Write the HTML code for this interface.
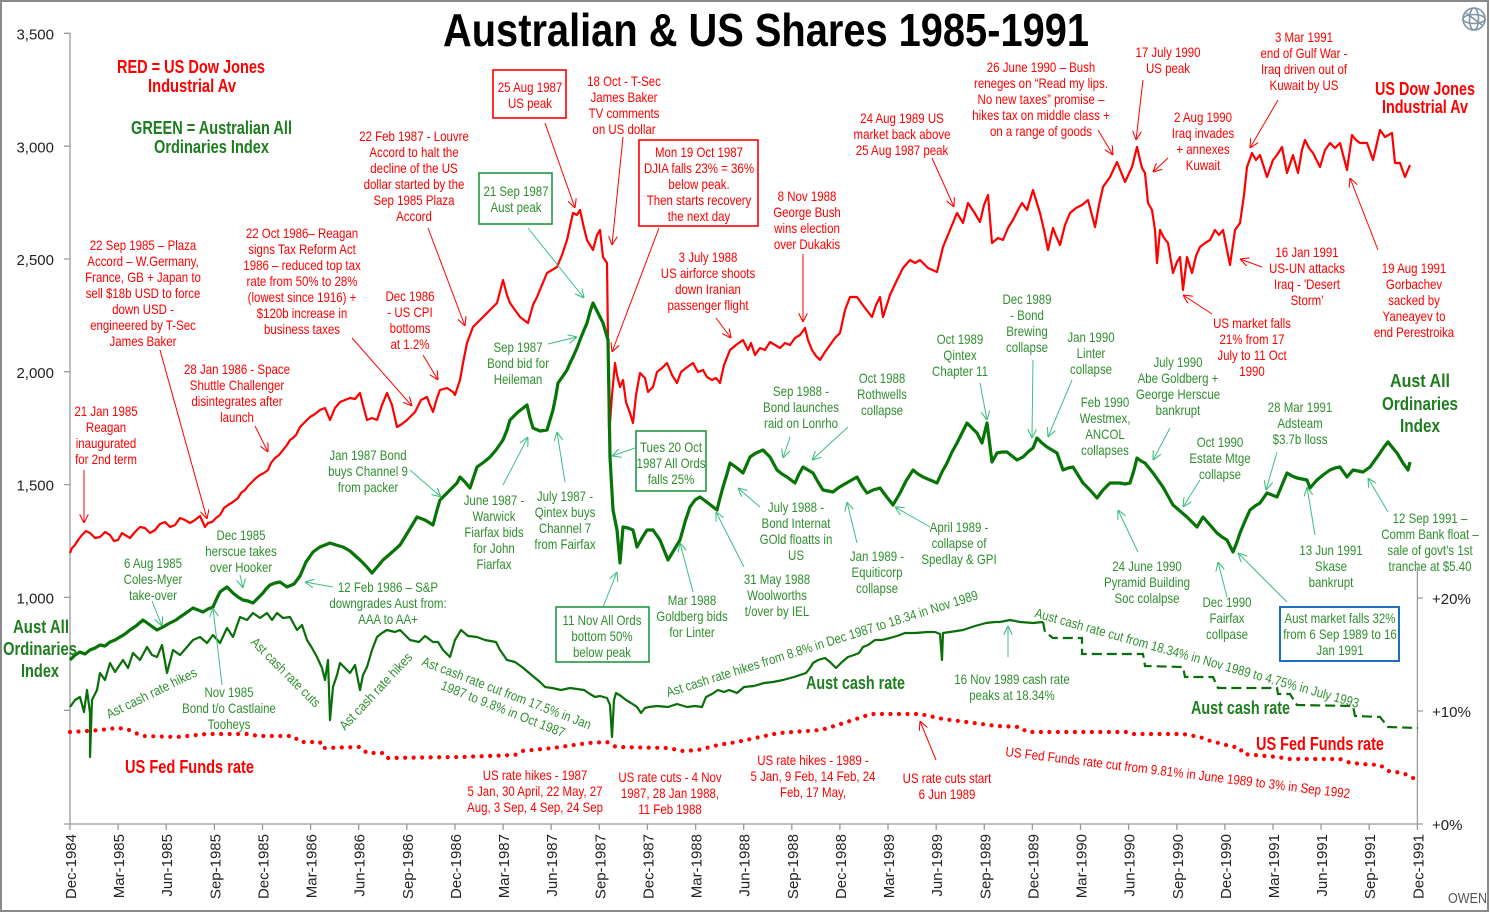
<!DOCTYPE html>
<html><head><meta charset="utf-8">
<style>
html,body{margin:0;padding:0;background:#fff}
svg{display:block}
text{font-family:"Liberation Sans",Arial,sans-serif}
.a{font-size:14px;text-anchor:middle}
.r{fill:#f00}
.g{fill:#2f8f2f}
.b{font-weight:bold;font-size:18px}
.bg{fill:#1e7d1e}
.ax{font-size:15px;fill:#222}
.rt{font-size:13.5px}
</style></head>
<body>
<svg width="1490" height="913" viewBox="0 0 1490 913" xmlns="http://www.w3.org/2000/svg">
<defs>
<marker id="ar" viewBox="0 0 10 10" refX="10" refY="5" markerWidth="9" markerHeight="9" markerUnits="userSpaceOnUse" orient="auto"><path d="M0,0 L10,5 L0,10" fill="none" stroke="#f00" stroke-width="1.2"/></marker>
<marker id="ag" viewBox="0 0 10 10" refX="10" refY="5" markerWidth="9" markerHeight="9" markerUnits="userSpaceOnUse" orient="auto"><path d="M0,0 L10,5 L0,10" fill="none" stroke="#3cbf80" stroke-width="1.2"/></marker>
</defs>
<rect x="0" y="0" width="1490" height="913" fill="#fff"/>
<rect x="1" y="1" width="1487" height="910" fill="none" stroke="#8a8a8a" stroke-width="2"/>

<!-- logo -->
<g transform="translate(1474,19)" fill="none" stroke="#7d93a6" stroke-width="1.6"><circle r="11"/><ellipse rx="11" ry="4.5"/><ellipse rx="4.5" ry="11"/><path d="M-8,-6 L8,6"/></g>

<!-- Title -->
<text x="443" y="46" font-size="46" font-weight="bold" fill="#000" textLength="646" lengthAdjust="spacingAndGlyphs">Australian &amp; US Shares 1985-1991</text>

<!-- axes -->
<g stroke="#9a9a9a" stroke-width="1.3" fill="none">
<line x1="70" y1="33" x2="70" y2="824"/>
<line x1="64" y1="824" x2="1418" y2="824"/>
<line x1="1417.4" y1="567" x2="1417.4" y2="824"/>
<path d="M64,33.3H70M64,146.2H70M64,259H70M64,371.8H70M64,484.6H70M64,597.4H70M64,710.3H70"/>
<path d="M1417,598H1423M1417,711H1423M1417,824H1423"/>
<path d="M70,824V830M118.1,824V830M166.2,824V830M214.4,824V830M262.5,824V830M310.6,824V830M358.7,824V830M406.8,824V830M455,824V830M503.1,824V830M551.2,824V830M599.3,824V830M647.4,824V830M695.6,824V830M743.7,824V830M791.8,824V830M839.9,824V830M888,824V830M936.2,824V830M984.3,824V830M1032.4,824V830M1080.5,824V830M1128.6,824V830M1176.8,824V830M1224.9,824V830M1273,824V830M1321.1,824V830M1369.2,824V830M1417.4,824V830"/>
</g>
<g class="ax" text-anchor="end">
<text x="54" y="39.5">3,500</text>
<text x="54" y="152.3">3,000</text>
<text x="54" y="265">2,500</text>
<text x="54" y="378">2,000</text>
<text x="54" y="490.7">1,500</text>
<text x="54" y="603.5">1,000</text>
</g>
<g class="ax">
<text x="1432" y="604">+20%</text>
<text x="1432" y="717">+10%</text>
<text x="1432" y="830">+0%</text>
</g>
<g class="ax" text-anchor="end">
<text transform="translate(76,834) rotate(-90)">Dec-1984</text>
<text transform="translate(124.1,834) rotate(-90)">Mar-1985</text>
<text transform="translate(172.2,834) rotate(-90)">Jun-1985</text>
<text transform="translate(220.4,834) rotate(-90)">Sep-1985</text>
<text transform="translate(268.5,834) rotate(-90)">Dec-1985</text>
<text transform="translate(316.6,834) rotate(-90)">Mar-1986</text>
<text transform="translate(364.7,834) rotate(-90)">Jun-1986</text>
<text transform="translate(412.8,834) rotate(-90)">Sep-1986</text>
<text transform="translate(461,834) rotate(-90)">Dec-1986</text>
<text transform="translate(509.1,834) rotate(-90)">Mar-1987</text>
<text transform="translate(557.2,834) rotate(-90)">Jun-1987</text>
<text transform="translate(605.3,834) rotate(-90)">Sep-1987</text>
<text transform="translate(653.4,834) rotate(-90)">Dec-1987</text>
<text transform="translate(701.6,834) rotate(-90)">Mar-1988</text>
<text transform="translate(749.7,834) rotate(-90)">Jun-1988</text>
<text transform="translate(797.8,834) rotate(-90)">Sep-1988</text>
<text transform="translate(845.9,834) rotate(-90)">Dec-1988</text>
<text transform="translate(894,834) rotate(-90)">Mar-1989</text>
<text transform="translate(942.2,834) rotate(-90)">Jun-1989</text>
<text transform="translate(990.3,834) rotate(-90)">Sep-1989</text>
<text transform="translate(1038.4,834) rotate(-90)">Dec-1989</text>
<text transform="translate(1086.5,834) rotate(-90)">Mar-1990</text>
<text transform="translate(1134.6,834) rotate(-90)">Jun-1990</text>
<text transform="translate(1182.8,834) rotate(-90)">Sep-1990</text>
<text transform="translate(1230.9,834) rotate(-90)">Dec-1990</text>
<text transform="translate(1279,834) rotate(-90)">Mar-1991</text>
<text transform="translate(1327.1,834) rotate(-90)">Jun-1991</text>
<text transform="translate(1375.2,834) rotate(-90)">Sep-1991</text>
<text transform="translate(1423.4,834) rotate(-90)">Dec-1991</text>
</g>
<text x="1448" y="903" font-size="15" fill="#555" textLength="39" lengthAdjust="spacingAndGlyphs">OWEN</text>

<!-- US Fed Funds dotted -->
<polyline fill="none" stroke="#f00" stroke-width="4.2" stroke-linecap="round" stroke-dasharray="0,8.5" points="70,732 87,731 100,730 117,728 127,729 133,732 143,736 177,737 207,734 250,734 257,736 293,736 300,742 320,742 322,748 360,747 367,753 383,753 387,758 460,757 515,755 522,751 553,748 588,743 607,742 616,747 668,748 683,751 698,750 718,745 737,742 760,737 779,733 821,730 844,723 871,714 920,714 943,719 997,726 1020,727 1027,732 1127,732 1133,734 1183,734 1200,737 1207,740 1230,746 1240,748 1243,754 1277,757 1290,759 1340,759 1347,762 1360,764 1380,765 1388,771 1403,773 1415,779"/>

<!-- Aust cash rate -->
<polyline fill="none" stroke="#0a6e0a" stroke-width="2.2" stroke-linejoin="round" points="70,707 75,700 80,697 84,712 87,690 90,713 90,757 92,700 97,690 100,673 105,680 110,663 115,672 123,660 128,668 133,653 140,660 147,647 152,655 157,657 162,645 167,673 173,650 180,655 187,647 193,640 200,637 207,643 213,635 220,643 227,628 233,637 240,617 247,620 253,613 260,618 267,613 272,620 277,613 283,618 290,617 297,630 302,625 307,640 312,648 317,657 322,668 325,680 328,660 330,720 333,687 337,675 340,663 345,668 350,673 355,665 360,690 363,675 367,667 372,650 377,637 382,633 387,630 395,632 400,630 410,640 419,642 425,636 433,642 438,642 443,650 450,657 455,640 461,630 468,636 477,637 485,640 496,642 500,650 507,660 515,662 522,667 528,672 534,677 540,682 545,687 552,688 561,690 570,688 584,690 590,694 595,697 600,696 607,698 610,705 612,737 614,700 616,693 621,696 626,700 631,703 637,707 641,713 645,708 649,707 657,706 668,707 677,704 687,707 695,706 702,707 706,697 712,694 718,690 724,692 729,690 737,693 744,687 754,686 764,683 773,682 783,680 794,677 806,673 810,668 813,663 818,660 825,658 830,662 836,668 842,662 848,657 854,655 859,653 863,647 868,645 875,640 882,640 890,638 897,636 905,633 915,633 928,632 935,632 940,634 942,660 943,633 950,632 963,630 975,626 986,623 995,622 1000,622 1010,620 1020,622 1033,623 1043,622"/>
<path fill="none" stroke="#0a6e0a" stroke-width="2.2" stroke-dasharray="10,5" d="M1043,622 L1045,632 L1053,638 L1082,638 L1082,654 L1143,654 L1145,666 L1183,667 L1185,677 L1213,677 L1218,688 L1277,688 L1278,694 L1290,694 L1297,705 L1353,706 L1355,716 L1380,717 L1388,727 L1418,728"/>

<!-- US Dow Jones -->
<polyline fill="none" stroke="#f00" stroke-width="2.2" stroke-linejoin="round" points="70,553 72,548 75,545 78,540 82,535 86,531 90,533 95,538 100,537 105,532 110,535 114,541 118,540 122,533 125,535 130,538 135,532 140,527 145,528 150,533 155,530 160,524 165,522 170,527 175,525 180,518 185,520 190,523 195,520 200,516 205,527 208,523 212,522 216,518 220,515 224,508 228,505 233,502 238,498 241,493 245,490 248,486 252,482 256,478 260,475 264,473 268,470 271,463 275,458 279,455 283,450 287,445 290,440 293,438 296,435 298,431 300,427 305,422 310,417 315,414 320,410 325,408 330,420 335,408 340,402 345,400 350,398 355,399 360,393 363,405 367,420 372,418 377,420 382,405 387,393 392,405 397,427 402,424 407,420 411,416 415,412 421,400 427,397 430,405 433,412 437,398 440,390 447,388 453,392 455,395 460,380 463,363 467,343 473,327 478,322 483,317 490,310 497,303 503,280 507,295 510,303 515,310 520,317 528,323 533,305 537,297 542,285 547,273 552,270 557,267 562,255 567,240 573,213 577,215 580,210 584,228 587,240 593,250 597,235 600,230 603,257 607,263 608,340 609,430 610,423 612,395 615,363 617,375 620,387 623,380 626,402 630,413 633,423 636,395 640,373 645,378 648,392 653,387 657,372 662,368 667,363 672,375 677,383 681,372 686,368 693,363 698,372 703,370 707,377 712,380 716,378 720,383 724,365 730,350 736,345 743,340 748,350 751,343 755,355 760,348 765,350 770,342 775,345 780,348 785,343 790,345 795,338 800,335 805,328 808,340 812,350 816,356 820,360 825,352 830,345 835,338 840,333 845,310 850,297 857,297 865,308 872,317 876,305 880,297 883,317 890,295 897,280 903,268 910,260 915,263 920,260 928,268 937,272 943,247 950,230 957,213 963,223 968,203 974,212 980,222 984,205 988,195 992,243 998,238 1003,240 1008,228 1013,220 1018,210 1022,203 1027,210 1033,190 1036,200 1040,213 1044,230 1048,250 1053,228 1056,236 1060,245 1065,225 1070,213 1076,208 1082,205 1088,200 1095,227 1099,205 1103,187 1110,177 1117,162 1121,172 1125,182 1132,167 1137,147 1142,168 1145,173 1148,203 1152,210 1155,230 1157,263 1160,230 1164,238 1168,243 1173,273 1177,262 1180,257 1183,290 1187,257 1192,273 1196,256 1200,247 1205,243 1210,240 1215,230 1219,235 1223,230 1230,265 1235,230 1240,223 1244,195 1247,167 1252,153 1256,160 1260,155 1267,177 1273,160 1277,155 1282,147 1287,173 1293,155 1298,173 1302,150 1305,140 1309,148 1313,153 1320,167 1325,150 1330,143 1335,148 1340,143 1347,170 1352,135 1356,140 1360,143 1367,143 1373,160 1380,130 1385,137 1392,133 1395,163 1400,163 1405,177 1410,165"/>

<!-- All Ords -->
<polyline fill="none" stroke="#067406" stroke-width="3.2" stroke-linejoin="round" points="70,660 75,655 80,652 85,654 90,650 95,648 100,645 105,646 110,642 115,640 120,637 125,634 130,630 136,626 143,620 150,625 157,630 163,627 168,624 172,622 176,620 180,617 186,613 193,608 198,610 203,612 208,609 213,607 217,598 220,592 224,589 227,587 233,593 238,597 243,600 248,601 253,603 258,598 263,593 266,589 270,585 275,583 280,582 287,587 294,584 300,576 306,562 313,552 320,547 330,543 336,545 343,547 350,551 360,560 366,566 372,573 378,566 383,560 390,554 400,545 408,532 417,517 425,520 433,525 437,510 440,500 448,492 457,483 460,477 465,482 470,488 474,476 477,467 484,462 490,457 496,450 503,440 507,430 510,420 518,412 527,405 530,418 533,428 540,431 547,430 550,420 553,410 556,395 558,383 563,376 567,370 570,363 573,357 577,348 580,340 584,330 587,323 590,312 593,303 598,313 603,323 608,340 610,457 613,510 617,530 620,563 623,527 628,528 633,530 637,547 642,538 647,530 653,530 660,540 664,550 668,560 674,550 680,540 685,522 690,507 695,500 700,497 708,503 717,510 720,498 723,487 727,474 730,463 737,468 743,473 750,457 756,453 763,450 770,457 777,470 782,474 787,477 795,483 799,474 803,467 808,470 813,473 818,482 823,490 833,492 838,488 843,485 850,481 857,477 862,486 867,493 873,490 880,488 886,496 893,505 900,493 906,481 913,470 918,474 923,477 930,480 937,483 942,472 947,463 952,452 957,443 962,433 967,423 972,428 977,433 982,443 987,423 992,462 997,453 1002,452 1007,452 1012,456 1017,460 1023,457 1028,452 1033,448 1037,438 1042,443 1047,447 1052,450 1057,453 1063,470 1068,468 1073,467 1078,475 1083,483 1090,490 1097,498 1103,490 1110,483 1115,483 1120,483 1125,484 1130,483 1134,470 1137,458 1141,461 1145,463 1149,468 1153,473 1158,480 1163,487 1168,496 1173,505 1180,511 1187,517 1192,522 1197,527 1203,517 1210,525 1217,533 1222,537 1227,540 1233,552 1237,542 1240,533 1245,521 1250,510 1255,506 1260,503 1267,493 1272,495 1277,497 1282,485 1287,473 1292,476 1297,478 1302,479 1307,480 1310,488 1317,480 1323,475 1330,470 1335,468 1340,467 1347,477 1353,470 1358,471 1363,472 1370,467 1375,460 1380,453 1384,447 1388,442 1392,447 1397,453 1403,463 1408,470 1410,462"/>

<!-- red arrows -->
<g stroke="#f00" stroke-width="1" fill="none" marker-end="url(#ar)">
<line x1="84" y1="470" x2="84" y2="523"/>
<line x1="160" y1="350" x2="207" y2="519"/>
<line x1="255" y1="426" x2="268" y2="452"/>
<line x1="352" y1="338" x2="412" y2="406"/>
<line x1="423" y1="355" x2="438" y2="380"/>
<line x1="428" y1="228" x2="465" y2="326"/>
<line x1="545" y1="123" x2="575" y2="208"/>
<line x1="623" y1="137" x2="612" y2="245"/>
<line x1="659" y1="228" x2="612" y2="352"/>
<line x1="716" y1="318" x2="731" y2="338"/>
<line x1="803" y1="254" x2="803" y2="322"/>
<line x1="932" y1="158" x2="954" y2="207"/>
<line x1="1098" y1="130" x2="1113" y2="155"/>
<line x1="1143" y1="80" x2="1136" y2="140"/>
<line x1="1168" y1="158" x2="1153" y2="172"/>
<line x1="1278" y1="100" x2="1250" y2="148"/>
<line x1="1262" y1="267" x2="1240" y2="259"/>
<line x1="1212" y1="314" x2="1183" y2="295"/>
<line x1="1378" y1="250" x2="1350" y2="178"/>
<line x1="936" y1="760" x2="920" y2="721"/>
</g>
<!-- green arrows -->
<g stroke="#3cbf80" stroke-width="1" fill="none" marker-end="url(#ag)">
<line x1="152" y1="601" x2="162" y2="626"/>
<line x1="240" y1="575" x2="243" y2="588"/>
<line x1="222" y1="685" x2="213" y2="608"/>
<line x1="333" y1="587" x2="305" y2="582"/>
<line x1="410" y1="470" x2="441" y2="497"/>
<line x1="503" y1="485" x2="528" y2="437"/>
<line x1="565" y1="482" x2="557" y2="432"/>
<line x1="548" y1="344" x2="577" y2="337"/>
<line x1="528" y1="228" x2="584" y2="298"/>
<line x1="635" y1="448" x2="612" y2="456"/>
<line x1="603" y1="607" x2="617" y2="572"/>
<line x1="693" y1="592" x2="680" y2="543"/>
<line x1="760" y1="507" x2="738" y2="488"/>
<line x1="744" y1="567" x2="716" y2="512"/>
<line x1="790" y1="437" x2="783" y2="458"/>
<line x1="848" y1="427" x2="812" y2="460"/>
<line x1="857" y1="543" x2="847" y2="502"/>
<line x1="930" y1="527" x2="895" y2="507"/>
<line x1="980" y1="383" x2="987" y2="420"/>
<line x1="1033" y1="360" x2="1032" y2="438"/>
<line x1="1072" y1="380" x2="1048" y2="437"/>
<line x1="1170" y1="428" x2="1153" y2="460"/>
<line x1="1200" y1="480" x2="1183" y2="507"/>
<line x1="1138" y1="552" x2="1118" y2="510"/>
<line x1="1277" y1="452" x2="1266" y2="490"/>
<line x1="1315" y1="535" x2="1307" y2="487"/>
<line x1="1388" y1="512" x2="1368" y2="478"/>
<line x1="1227" y1="597" x2="1218" y2="562"/>
<line x1="1287" y1="602" x2="1238" y2="553"/>
<line x1="1008" y1="657" x2="1008" y2="626"/>
</g>

<!-- boxes -->
<rect x="493" y="70" width="73" height="48" fill="#fff" stroke="#f00" stroke-width="1.6"/>
<rect x="639" y="140" width="119" height="86" fill="#fff" stroke="#f00" stroke-width="1.6"/>
<rect x="479" y="173" width="73" height="51" fill="#fff" stroke="#1f9a3f" stroke-width="1.6"/>
<rect x="636" y="431" width="70" height="60" fill="#fff" stroke="#1f9a3f" stroke-width="1.6"/>
<rect x="556" y="607" width="93" height="55" fill="#fff" stroke="#1f9a3f" stroke-width="1.6"/>
<rect x="1280" y="607" width="119" height="54" fill="#fff" stroke="#1f6fc0" stroke-width="2"/>

<!-- bold labels -->
<text class="b" fill="#f00" x="117" y="73" textLength="148" lengthAdjust="spacingAndGlyphs">RED = US Dow Jones</text>
<text class="b" fill="#f00" x="148" y="92" textLength="88" lengthAdjust="spacingAndGlyphs">Industrial Av</text>
<text class="b bg" x="131" y="134" textLength="161" lengthAdjust="spacingAndGlyphs">GREEN = Australian All</text>
<text class="b bg" x="154" y="153" textLength="115" lengthAdjust="spacingAndGlyphs">Ordinaries Index</text>
<text class="b" fill="#f00" x="1375" y="95" textLength="100" lengthAdjust="spacingAndGlyphs">US Dow Jones</text>
<text class="b" fill="#f00" x="1382" y="113" textLength="86" lengthAdjust="spacingAndGlyphs">Industrial Av</text>
<text class="b bg" x="13" y="633" textLength="56" lengthAdjust="spacingAndGlyphs">Aust All</text>
<text class="b bg" x="3" y="655" textLength="74" lengthAdjust="spacingAndGlyphs">Ordinaries</text>
<text class="b bg" x="21" y="677" textLength="38" lengthAdjust="spacingAndGlyphs">Index</text>
<text class="b bg" x="1390" y="387" textLength="60" lengthAdjust="spacingAndGlyphs">Aust All</text>
<text class="b bg" x="1382" y="410" textLength="76" lengthAdjust="spacingAndGlyphs">Ordinaries</text>
<text class="b bg" x="1400" y="432" textLength="40" lengthAdjust="spacingAndGlyphs">Index</text>
<text class="b bg" x="806" y="689" textLength="99" lengthAdjust="spacingAndGlyphs">Aust cash rate</text>
<text class="b bg" x="1191" y="714" textLength="99" lengthAdjust="spacingAndGlyphs">Aust cash rate</text>
<text class="b" fill="#f00" x="125" y="773" textLength="129" lengthAdjust="spacingAndGlyphs">US Fed Funds rate</text>
<text class="b" fill="#f00" x="1256" y="750" textLength="128" lengthAdjust="spacingAndGlyphs">US Fed Funds rate</text>

<!-- rotated texts -->
<g class="rt g">
<text transform="translate(109,719) rotate(-26)" textLength="99" lengthAdjust="spacingAndGlyphs">Ast cash rate hikes</text>
<text transform="translate(250,643) rotate(45)" textLength="92" lengthAdjust="spacingAndGlyphs">Ast cash rate cuts</text>
<text transform="translate(345,731) rotate(-47)" textLength="100" lengthAdjust="spacingAndGlyphs">Ast cash rate hikes</text>
<text transform="translate(421,665) rotate(21)" textLength="180" lengthAdjust="spacingAndGlyphs">Ast cash rate cut from 17.5% in Jan</text>
<text transform="translate(440,689) rotate(21.5)" textLength="132" lengthAdjust="spacingAndGlyphs">1987 to  9.8% in Oct 1987</text>
<text transform="translate(668,697) rotate(-17.5)" textLength="326" lengthAdjust="spacingAndGlyphs">Ast cash rate hikes from 8.8% in Dec 1987 to 18.34 in Nov 1989</text>
<text transform="translate(1034,617) rotate(15.7)" textLength="336" lengthAdjust="spacingAndGlyphs">Aust cash rate cut from 18.34% in Nov 1989 to 4.75% in July 1993</text>
</g>
<text class="rt r" transform="translate(1005,756) rotate(7)" textLength="347" lengthAdjust="spacingAndGlyphs">US Fed Funds rate cut from 9.81% in June 1989 to 3% in  Sep 1992</text>

<!-- red annotations -->
<g transform="translate(143,0) scale(.82,1)"><text class="a r"><tspan x="0" y="250">22 Sep 1985 – Plaza</tspan><tspan x="0" y="266">Accord – W.Germany,</tspan><tspan x="0" y="282">France, GB + Japan to</tspan><tspan x="0" y="298">sell $18b USD to force</tspan><tspan x="0" y="314">down USD -</tspan><tspan x="0" y="330">engineered by T-Sec</tspan><tspan x="0" y="346">James Baker</tspan></text></g>
<g transform="translate(302,0) scale(.82,1)"><text class="a r"><tspan x="0" y="238">22 Oct 1986– Reagan</tspan><tspan x="0" y="254">signs Tax Reform Act</tspan><tspan x="0" y="270">1986 – reduced top tax</tspan><tspan x="0" y="286">rate from 50% to 28%</tspan><tspan x="0" y="302">(lowest since 1916) +</tspan><tspan x="0" y="318">$120b increase in</tspan><tspan x="0" y="334">business taxes</tspan></text></g>
<g transform="translate(414,0) scale(.82,1)"><text class="a r"><tspan x="0" y="141">22 Feb 1987 - Louvre</tspan><tspan x="0" y="157">Accord to halt the</tspan><tspan x="0" y="173">decline of the US</tspan><tspan x="0" y="189">dollar started by the</tspan><tspan x="0" y="205">Sep 1985 Plaza</tspan><tspan x="0" y="221">Accord</tspan></text></g>
<g transform="translate(410,0) scale(.82,1)"><text class="a r"><tspan x="0" y="301">Dec 1986</tspan><tspan x="0" y="317">- US CPI</tspan><tspan x="0" y="333">bottoms</tspan><tspan x="0" y="349">at 1.2%</tspan></text></g>
<g transform="translate(106,0) scale(.82,1)"><text class="a r"><tspan x="0" y="416">21 Jan 1985</tspan><tspan x="0" y="432">Reagan</tspan><tspan x="0" y="448">inaugurated</tspan><tspan x="0" y="464">for 2nd term</tspan></text></g>
<g transform="translate(237,0) scale(.82,1)"><text class="a r"><tspan x="0" y="374">28 Jan 1986 - Space</tspan><tspan x="0" y="390">Shuttle Challenger</tspan><tspan x="0" y="406">disintegrates after</tspan><tspan x="0" y="422">launch</tspan></text></g>
<g transform="translate(530,0) scale(.82,1)"><text class="a r"><tspan x="0" y="92">25 Aug 1987</tspan><tspan x="0" y="108">US peak</tspan></text></g>
<g transform="translate(624,0) scale(.82,1)"><text class="a r"><tspan x="0" y="86">18 Oct - T-Sec</tspan><tspan x="0" y="102">James Baker</tspan><tspan x="0" y="118">TV comments</tspan><tspan x="0" y="134">on US dollar</tspan></text></g>
<g transform="translate(699,0) scale(.82,1)"><text class="a r"><tspan x="0" y="157">Mon 19 Oct 1987</tspan><tspan x="0" y="173">DJIA falls  23% = 36%</tspan><tspan x="0" y="189">below peak.</tspan><tspan x="0" y="205">Then starts recovery</tspan><tspan x="0" y="221">the next day</tspan></text></g>
<g transform="translate(807,0) scale(.82,1)"><text class="a r"><tspan x="0" y="201">8 Nov 1988</tspan><tspan x="0" y="217">George Bush</tspan><tspan x="0" y="233">wins election</tspan><tspan x="0" y="249">over Dukakis</tspan></text></g>
<g transform="translate(708,0) scale(.82,1)"><text class="a r"><tspan x="0" y="262">3 July 1988</tspan><tspan x="0" y="278">US airforce shoots</tspan><tspan x="0" y="294">down Iranian</tspan><tspan x="0" y="310">passenger flight</tspan></text></g>
<g transform="translate(902,0) scale(.82,1)"><text class="a r"><tspan x="0" y="123">24 Aug 1989 US</tspan><tspan x="0" y="139">market back above</tspan><tspan x="0" y="155">25 Aug 1987 peak</tspan></text></g>
<g transform="translate(1041,0) scale(.82,1)"><text class="a r"><tspan x="0" y="72">26 June 1990  – Bush</tspan><tspan x="0" y="88">reneges on “Read my lips.</tspan><tspan x="0" y="104">No new taxes” promise –</tspan><tspan x="0" y="120">hikes tax on middle class +</tspan><tspan x="0" y="136">on a range of goods</tspan></text></g>
<g transform="translate(1168,0) scale(.82,1)"><text class="a r"><tspan x="0" y="57">17 July 1990</tspan><tspan x="0" y="73">US peak</tspan></text></g>
<g transform="translate(1304,0) scale(.82,1)"><text class="a r"><tspan x="0" y="42">3 Mar 1991</tspan><tspan x="0" y="58">end of Gulf War -</tspan><tspan x="0" y="74">Iraq driven out of</tspan><tspan x="0" y="90">Kuwait by US</tspan></text></g>
<g transform="translate(1203,0) scale(.82,1)"><text class="a r"><tspan x="0" y="122">2 Aug 1990</tspan><tspan x="0" y="138">Iraq invades</tspan><tspan x="0" y="154">+ annexes</tspan><tspan x="0" y="170">Kuwait</tspan></text></g>
<g transform="translate(1307,0) scale(.82,1)"><text class="a r"><tspan x="0" y="257">16 Jan 1991</tspan><tspan x="0" y="273">US-UN attacks</tspan><tspan x="0" y="289">Iraq - 'Desert</tspan><tspan x="0" y="305">Storm'</tspan></text></g>
<g transform="translate(1414,0) scale(.82,1)"><text class="a r"><tspan x="0" y="273">19 Aug 1991</tspan><tspan x="0" y="289">Gorbachev</tspan><tspan x="0" y="305">sacked by</tspan><tspan x="0" y="321">Yaneayev to</tspan><tspan x="0" y="337">end Perestroika</tspan></text></g>
<g transform="translate(1252,0) scale(.82,1)"><text class="a r"><tspan x="0" y="328">US market falls</tspan><tspan x="0" y="344">21% from 17</tspan><tspan x="0" y="360">July to 11 Oct</tspan><tspan x="0" y="376">1990</tspan></text></g>
<g transform="translate(535,0) scale(.82,1)"><text class="a r"><tspan x="0" y="780">US rate hikes - 1987</tspan><tspan x="0" y="796">5 Jan, 30 April, 22 May, 27</tspan><tspan x="0" y="812">Aug, 3 Sep, 4 Sep, 24 Sep</tspan></text></g>
<g transform="translate(670,0) scale(.82,1)"><text class="a r"><tspan x="0" y="782">US rate cuts - 4 Nov</tspan><tspan x="0" y="798">1987, 28 Jan 1988,</tspan><tspan x="0" y="814">11 Feb 1988</tspan></text></g>
<g transform="translate(813,0) scale(.82,1)"><text class="a r"><tspan x="0" y="765">US rate hikes -  1989 -</tspan><tspan x="0" y="781">5 Jan, 9 Feb, 14 Feb, 24</tspan><tspan x="0" y="797">Feb, 17 May,</tspan></text></g>
<g transform="translate(947,0) scale(.82,1)"><text class="a r"><tspan x="0" y="783">US rate cuts start</tspan><tspan x="0" y="799">6 Jun 1989</tspan></text></g>

<!-- green annotations -->
<g transform="translate(516,0) scale(.82,1)"><text class="a g"><tspan x="0" y="196">21 Sep 1987</tspan><tspan x="0" y="212">Aust peak</tspan></text></g>
<g transform="translate(518,0) scale(.82,1)"><text class="a g"><tspan x="0" y="352">Sep 1987</tspan><tspan x="0" y="368">Bond bid for</tspan><tspan x="0" y="384">Heileman</tspan></text></g>
<g transform="translate(368,0) scale(.82,1)"><text class="a g"><tspan x="0" y="460">Jan 1987 Bond</tspan><tspan x="0" y="476">buys Channel 9</tspan><tspan x="0" y="492">from packer</tspan></text></g>
<g transform="translate(494,0) scale(.82,1)"><text class="a g"><tspan x="0" y="505">June 1987 -</tspan><tspan x="0" y="521">Warwick</tspan><tspan x="0" y="537">Fiarfax bids</tspan><tspan x="0" y="553">for John</tspan><tspan x="0" y="569">Fiarfax</tspan></text></g>
<g transform="translate(565,0) scale(.82,1)"><text class="a g"><tspan x="0" y="501">July 1987 -</tspan><tspan x="0" y="517">Qintex buys</tspan><tspan x="0" y="533">Channel 7</tspan><tspan x="0" y="549">from Fairfax</tspan></text></g>
<g transform="translate(671,0) scale(.82,1)"><text class="a g"><tspan x="0" y="452">Tues 20 Oct</tspan><tspan x="0" y="468">1987 All Ords</tspan><tspan x="0" y="484">falls 25%</tspan></text></g>
<g transform="translate(602,0) scale(.82,1)"><text class="a g"><tspan x="0" y="625">11 Nov All Ords</tspan><tspan x="0" y="641">bottom 50%</tspan><tspan x="0" y="657">below peak</tspan></text></g>
<g transform="translate(692,0) scale(.82,1)"><text class="a g"><tspan x="0" y="605">Mar 1988</tspan><tspan x="0" y="621">Goldberg bids</tspan><tspan x="0" y="637">for Linter</tspan></text></g>
<g transform="translate(388,0) scale(.82,1)"><text class="a g"><tspan x="0" y="592">12 Feb 1986 – S&amp;P</tspan><tspan x="0" y="608">downgrades Aust from:</tspan><tspan x="0" y="624">AAA to  AA+</tspan></text></g>
<g transform="translate(153,0) scale(.82,1)"><text class="a g"><tspan x="0" y="568">6 Aug 1985</tspan><tspan x="0" y="584">Coles-Myer</tspan><tspan x="0" y="600">take-over</tspan></text></g>
<g transform="translate(241,0) scale(.82,1)"><text class="a g"><tspan x="0" y="540">Dec 1985</tspan><tspan x="0" y="556">herscue takes</tspan><tspan x="0" y="572">over Hooker</tspan></text></g>
<g transform="translate(229,0) scale(.82,1)"><text class="a g"><tspan x="0" y="697">Nov 1985</tspan><tspan x="0" y="713">Bond t/o Castlaine</tspan><tspan x="0" y="729">Tooheys</tspan></text></g>
<g transform="translate(1012,0) scale(.82,1)"><text class="a g"><tspan x="0" y="684">16 Nov 1989 cash rate</tspan><tspan x="0" y="700">peaks at 18.34%</tspan></text></g>
<g transform="translate(801,0) scale(.82,1)"><text class="a g"><tspan x="0" y="396">Sep 1988 -</tspan><tspan x="0" y="412">Bond launches</tspan><tspan x="0" y="428">raid on Lonrho</tspan></text></g>
<g transform="translate(882,0) scale(.82,1)"><text class="a g"><tspan x="0" y="383">Oct 1988</tspan><tspan x="0" y="399">Rothwells</tspan><tspan x="0" y="415">collapse</tspan></text></g>
<g transform="translate(796,0) scale(.82,1)"><text class="a g"><tspan x="0" y="512">July 1988 -</tspan><tspan x="0" y="528">Bond Internat</tspan><tspan x="0" y="544">GOld floatts  in</tspan><tspan x="0" y="560">US</tspan></text></g>
<g transform="translate(777,0) scale(.82,1)"><text class="a g"><tspan x="0" y="584">31 May 1988</tspan><tspan x="0" y="600">Woolworths</tspan><tspan x="0" y="616">t/over by IEL</tspan></text></g>
<g transform="translate(877,0) scale(.82,1)"><text class="a g"><tspan x="0" y="561">Jan 1989 -</tspan><tspan x="0" y="577">Equiticorp</tspan><tspan x="0" y="593">collapse</tspan></text></g>
<g transform="translate(959,0) scale(.82,1)"><text class="a g"><tspan x="0" y="532">April 1989 -</tspan><tspan x="0" y="548">collapse of</tspan><tspan x="0" y="564">Spedlay &amp; GPI</tspan></text></g>
<g transform="translate(960,0) scale(.82,1)"><text class="a g"><tspan x="0" y="344">Oct 1989</tspan><tspan x="0" y="360">Qintex</tspan><tspan x="0" y="376">Chapter 11</tspan></text></g>
<g transform="translate(1027,0) scale(.82,1)"><text class="a g"><tspan x="0" y="304">Dec 1989</tspan><tspan x="0" y="320">- Bond</tspan><tspan x="0" y="336">Brewing</tspan><tspan x="0" y="352">collapse</tspan></text></g>
<g transform="translate(1091,0) scale(.82,1)"><text class="a g"><tspan x="0" y="342">Jan 1990</tspan><tspan x="0" y="358">Linter</tspan><tspan x="0" y="374">collapse</tspan></text></g>
<g transform="translate(1105,0) scale(.82,1)"><text class="a g"><tspan x="0" y="407">Feb 1990</tspan><tspan x="0" y="423">Westmex,</tspan><tspan x="0" y="439">ANCOL</tspan><tspan x="0" y="455">collapses</tspan></text></g>
<g transform="translate(1178,0) scale(.82,1)"><text class="a g"><tspan x="0" y="367">July 1990</tspan><tspan x="0" y="383">Abe Goldberg +</tspan><tspan x="0" y="399">George Herscue</tspan><tspan x="0" y="415">bankrupt</tspan></text></g>
<g transform="translate(1220,0) scale(.82,1)"><text class="a g"><tspan x="0" y="447">Oct 1990</tspan><tspan x="0" y="463">Estate  Mtge</tspan><tspan x="0" y="479">collapse</tspan></text></g>
<g transform="translate(1300,0) scale(.82,1)"><text class="a g"><tspan x="0" y="412">28 Mar 1991</tspan><tspan x="0" y="428">Adsteam</tspan><tspan x="0" y="444">$3.7b lloss</tspan></text></g>
<g transform="translate(1147,0) scale(.82,1)"><text class="a g"><tspan x="0" y="571">24 June 1990</tspan><tspan x="0" y="587">Pyramid Building</tspan><tspan x="0" y="603">Soc colalpse</tspan></text></g>
<g transform="translate(1227,0) scale(.82,1)"><text class="a g"><tspan x="0" y="607">Dec 1990</tspan><tspan x="0" y="623">Fairfax</tspan><tspan x="0" y="639">collpase</tspan></text></g>
<g transform="translate(1331,0) scale(.82,1)"><text class="a g"><tspan x="0" y="555">13 Jun 1991</tspan><tspan x="0" y="571">Skase</tspan><tspan x="0" y="587">bankrupt</tspan></text></g>
<g transform="translate(1430,0) scale(.82,1)"><text class="a g"><tspan x="0" y="523">12 Sep 1991 –</tspan><tspan x="0" y="539">Comm Bank float –</tspan><tspan x="0" y="555">sale of govt’s 1st</tspan><tspan x="0" y="571">tranche at $5.40</tspan></text></g>
<g transform="translate(1340,0) scale(.82,1)"><text class="a g"><tspan x="0" y="623">Aust market falls 32%</tspan><tspan x="0" y="639">from  6 Sep 1989 to 16</tspan><tspan x="0" y="655">Jan 1991</tspan></text></g>
</svg>
</body></html>
